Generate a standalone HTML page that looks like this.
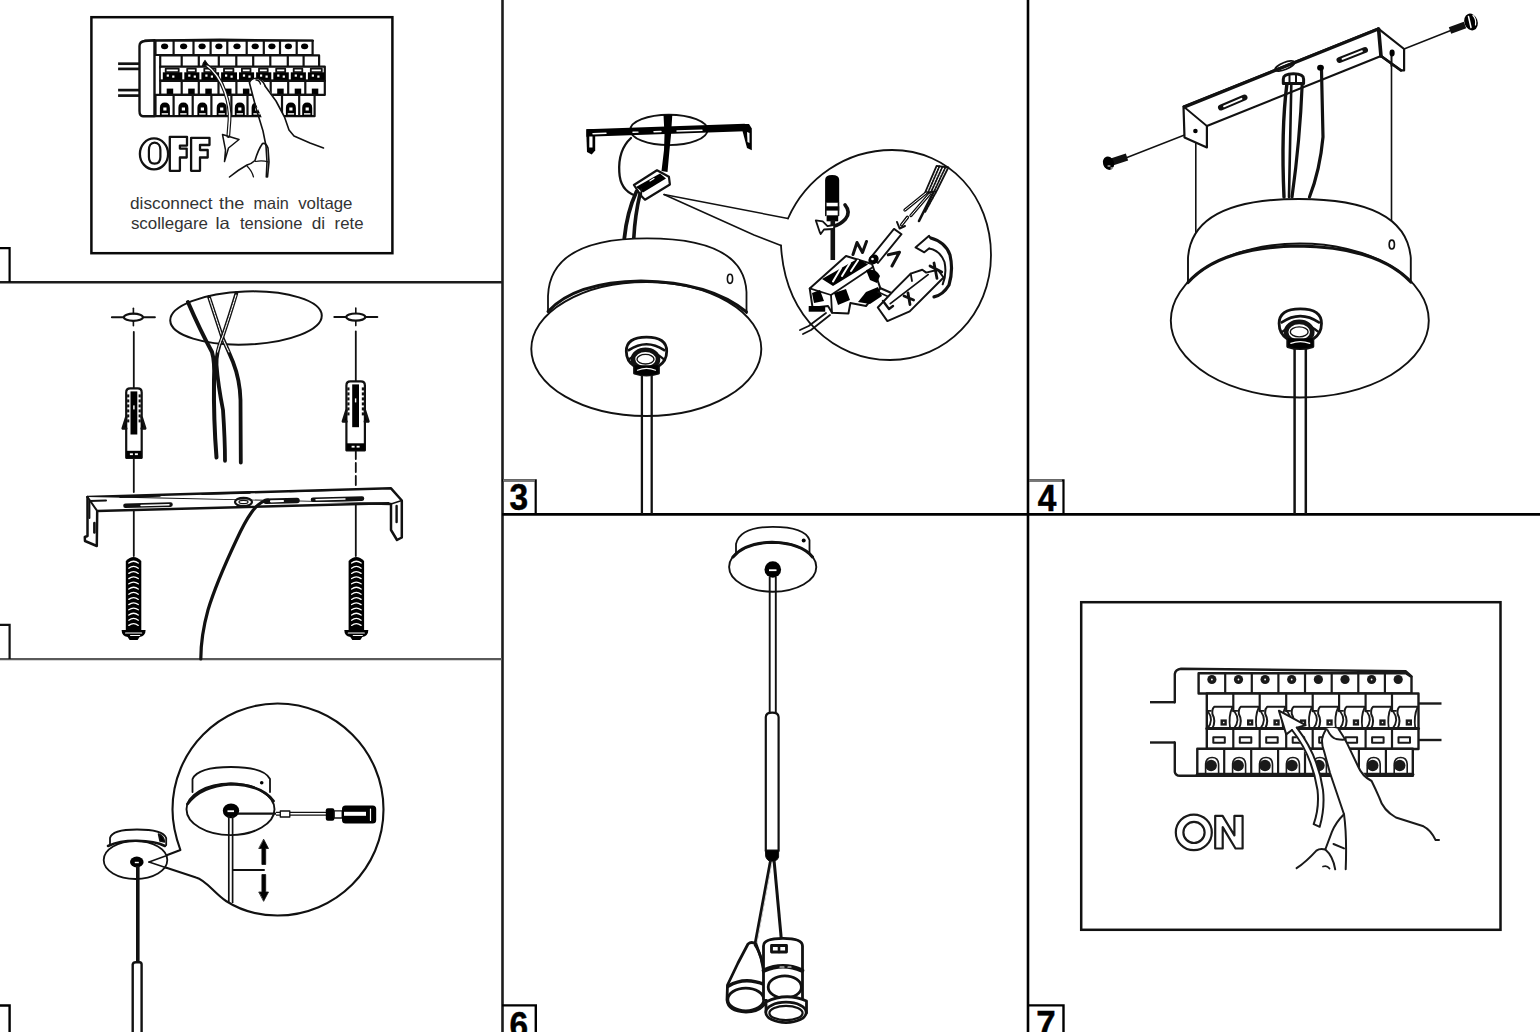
<!DOCTYPE html>
<html><head><meta charset="utf-8"><title>Assembly instructions</title>
<style>
html,body{margin:0;padding:0;background:#fff;}
body{width:1540px;height:1032px;overflow:hidden;}
svg{display:block;}
.t{font-family:"Liberation Sans",sans-serif;}
</style></head>
<body>
<svg width="1540" height="1032" viewBox="0 0 1540 1032">
<rect width="1540" height="1032" fill="#fff"/>
<g fill="none" stroke="#111" stroke-linecap="butt" stroke-linejoin="miter">
<line x1="502.5" y1="0" x2="502.5" y2="1032" stroke-width="2.6" stroke="#1c1c1c"/>
<line x1="1028" y1="0" x2="1028" y2="1032" stroke-width="2.6" stroke="#000"/>
<line x1="0" y1="282.2" x2="502" y2="282.2" stroke-width="2.6" stroke="#1c1c1c"/>
<line x1="0" y1="659.2" x2="502" y2="659.2" stroke-width="2.2" stroke="#5a5a5a"/>
<line x1="502" y1="514.4" x2="1540" y2="514.4" stroke-width="2.8" stroke="#000"/>
<path d="M0 248.2 H9.6 V282" stroke-width="2.2" stroke="#000"/>
<path d="M0 624.8 H9.6 V659" stroke-width="2.2" stroke="#111"/>
<path d="M0 1005.5 H9.6 V1032" stroke-width="2.4" stroke="#000"/>
<path d="M502 480.4 H535.7 V514" stroke-width="2.2" stroke="#000"/>
<line x1="503" y1="480.4" x2="535" y2="480.4" stroke-width="2.2" stroke="#777"/>
<path d="M502 1005.4 H535.8 V1032" stroke-width="2.4" stroke="#000"/>
<path d="M1028 480.4 H1063.5 V514" stroke-width="2.2" stroke="#000"/>
<line x1="1029" y1="480.4" x2="1062" y2="480.4" stroke-width="2.2" stroke="#777"/>
<path d="M1028 1005.4 H1063.5 V1032" stroke-width="2.4" stroke="#000"/>
<rect x="91.4" y="17.2" width="301" height="236" stroke-width="2.5" stroke="#0a0a0a"/>
<rect x="1081.2" y="602.2" width="419.3" height="327.6" stroke-width="2.5" stroke="#111"/>
</g>
<g class="t" font-weight="bold" font-size="36" fill="#000" stroke="#000" stroke-width="0.5">
<text x="509.4" y="510.4" textLength="18.6" lengthAdjust="spacingAndGlyphs">3</text>
<text x="1037.8" y="510.8" textLength="18.6" lengthAdjust="spacingAndGlyphs">4</text>
<text x="509.6" y="1038" textLength="18.6" lengthAdjust="spacingAndGlyphs">6</text>
<text x="1036.2" y="1037" textLength="19.4" lengthAdjust="spacingAndGlyphs">7</text>
</g>
<g fill="none" stroke="#111" stroke-linecap="round" stroke-linejoin="round">
<g id="p1">
<line x1="118.1" y1="63.7" x2="139" y2="63.7" stroke-width="2.7" stroke-linecap="butt"/>
<line x1="118.1" y1="68.9" x2="139" y2="68.9" stroke-width="2.7" stroke-linecap="butt"/>
<line x1="118.1" y1="90.1" x2="139" y2="90.1" stroke-width="2.7" stroke-linecap="butt"/>
<line x1="118.1" y1="95.6" x2="139" y2="95.6" stroke-width="2.7" stroke-linecap="butt"/>
<path d="M139.5 46 Q139.5 41.5 145 41 L154.5 40.2 L154.5 116.2 L143 116.2 Q139.5 116 139.5 111 Z" stroke-width="2.4" fill="#fff"/>
<path d="M145 40.6 L220 39.6 L313 40.8" stroke-width="2.0"/>
<rect x="155.5" y="40.6" width="157.1" height="14.4" stroke-width="2.2" fill="#fff"/>
<line x1="173.6" y1="41" x2="173.6" y2="54.8" stroke-width="2.2"/>
<line x1="193.5" y1="41" x2="193.5" y2="54.8" stroke-width="2.2"/>
<line x1="210.6" y1="41" x2="210.6" y2="54.8" stroke-width="2.2"/>
<line x1="227.3" y1="41" x2="227.3" y2="54.8" stroke-width="2.2"/>
<line x1="246.7" y1="41" x2="246.7" y2="54.8" stroke-width="2.2"/>
<line x1="263.8" y1="41" x2="263.8" y2="54.8" stroke-width="2.2"/>
<line x1="280" y1="41" x2="280" y2="54.8" stroke-width="2.2"/>
<line x1="296.7" y1="41" x2="296.7" y2="54.8" stroke-width="2.2"/>
<ellipse cx="164.6" cy="46.3" rx="3.6" ry="2.9" stroke-width="0" fill="#000" stroke="none"/>
<ellipse cx="183.6" cy="46.3" rx="3.6" ry="2.9" stroke-width="0" fill="#000" stroke="none"/>
<ellipse cx="202.1" cy="46.3" rx="3.6" ry="2.9" stroke-width="0" fill="#000" stroke="none"/>
<ellipse cx="218.9" cy="46.3" rx="3.6" ry="2.9" stroke-width="0" fill="#000" stroke="none"/>
<ellipse cx="237" cy="46.3" rx="3.6" ry="2.9" stroke-width="0" fill="#000" stroke="none"/>
<ellipse cx="255.2" cy="46.3" rx="3.6" ry="2.9" stroke-width="0" fill="#000" stroke="none"/>
<ellipse cx="271.9" cy="46.3" rx="3.6" ry="2.9" stroke-width="0" fill="#000" stroke="none"/>
<ellipse cx="288.4" cy="46.3" rx="3.6" ry="2.9" stroke-width="0" fill="#000" stroke="none"/>
<ellipse cx="304.6" cy="46.3" rx="3.6" ry="2.9" stroke-width="0" fill="#000" stroke="none"/>
<rect x="160.2" y="55.4" width="158.9" height="12.4" stroke-width="2.2" fill="#fff"/>
<line x1="181.7" y1="55.6" x2="181.7" y2="67.5" stroke-width="2.2"/>
<line x1="198.8" y1="55.6" x2="198.8" y2="67.5" stroke-width="2.2"/>
<line x1="218.8" y1="55.6" x2="218.8" y2="67.5" stroke-width="2.2"/>
<line x1="236.3" y1="55.6" x2="236.3" y2="67.5" stroke-width="2.2"/>
<line x1="253.2" y1="55.6" x2="253.2" y2="67.5" stroke-width="2.2"/>
<line x1="270.3" y1="55.6" x2="270.3" y2="67.5" stroke-width="2.2"/>
<line x1="287.8" y1="55.6" x2="287.8" y2="67.5" stroke-width="2.2"/>
<line x1="303.6" y1="55.6" x2="303.6" y2="67.5" stroke-width="2.2"/>
<rect x="160.2" y="66.6" width="164.6" height="14.2" stroke-width="2.2" fill="#fff"/>
<rect x="160.2" y="72.3" width="164.6" height="8.3" stroke-width="0" fill="#000" stroke="none"/>
<rect x="165.7" y="68.6" width="13" height="3.6" stroke-width="1.8" fill="#fff"/>
<line x1="161.8" y1="68" x2="161.8" y2="79.5" stroke-width="2.0" stroke="#fff" stroke-linecap="butt"/>
<rect x="166.7" y="74.5" width="2.2" height="2.2" stroke-width="0" fill="#fff" stroke="none"/>
<rect x="172.2" y="75.5" width="2.2" height="2.2" stroke-width="0" fill="#fff" stroke="none"/>
<rect x="187.2" y="68.6" width="8.6" height="3.6" stroke-width="1.8" fill="#fff"/>
<line x1="183.3" y1="68" x2="183.3" y2="79.5" stroke-width="2.0" stroke="#fff" stroke-linecap="butt"/>
<rect x="188.2" y="74.5" width="2.2" height="2.2" stroke-width="0" fill="#fff" stroke="none"/>
<rect x="193.7" y="75.5" width="2.2" height="2.2" stroke-width="0" fill="#fff" stroke="none"/>
<rect x="204.3" y="68.6" width="11.2" height="3.6" stroke-width="1.8" fill="#fff"/>
<line x1="200.4" y1="68" x2="200.4" y2="79.5" stroke-width="2.0" stroke="#fff" stroke-linecap="butt"/>
<rect x="205.3" y="74.5" width="2.2" height="2.2" stroke-width="0" fill="#fff" stroke="none"/>
<rect x="210.8" y="75.5" width="2.2" height="2.2" stroke-width="0" fill="#fff" stroke="none"/>
<rect x="224" y="68.6" width="9.4" height="3.6" stroke-width="1.8" fill="#fff"/>
<line x1="220.1" y1="68" x2="220.1" y2="79.5" stroke-width="2.0" stroke="#fff" stroke-linecap="butt"/>
<rect x="225" y="74.5" width="2.2" height="2.2" stroke-width="0" fill="#fff" stroke="none"/>
<rect x="230.5" y="75.5" width="2.2" height="2.2" stroke-width="0" fill="#fff" stroke="none"/>
<rect x="241.9" y="68.6" width="8.6" height="3.6" stroke-width="1.8" fill="#fff"/>
<line x1="238" y1="68" x2="238" y2="79.5" stroke-width="2.0" stroke="#fff" stroke-linecap="butt"/>
<rect x="242.9" y="74.5" width="2.2" height="2.2" stroke-width="0" fill="#fff" stroke="none"/>
<rect x="248.4" y="75.5" width="2.2" height="2.2" stroke-width="0" fill="#fff" stroke="none"/>
<rect x="259" y="68.6" width="8.7" height="3.6" stroke-width="1.8" fill="#fff"/>
<line x1="255.1" y1="68" x2="255.1" y2="79.5" stroke-width="2.0" stroke="#fff" stroke-linecap="butt"/>
<rect x="260" y="74.5" width="2.2" height="2.2" stroke-width="0" fill="#fff" stroke="none"/>
<rect x="265.5" y="75.5" width="2.2" height="2.2" stroke-width="0" fill="#fff" stroke="none"/>
<rect x="276.2" y="68.6" width="9" height="3.6" stroke-width="1.8" fill="#fff"/>
<line x1="272.3" y1="68" x2="272.3" y2="79.5" stroke-width="2.0" stroke="#fff" stroke-linecap="butt"/>
<rect x="277.2" y="74.5" width="2.2" height="2.2" stroke-width="0" fill="#fff" stroke="none"/>
<rect x="282.7" y="75.5" width="2.2" height="2.2" stroke-width="0" fill="#fff" stroke="none"/>
<rect x="293.7" y="68.6" width="8.6" height="3.6" stroke-width="1.8" fill="#fff"/>
<line x1="289.8" y1="68" x2="289.8" y2="79.5" stroke-width="2.0" stroke="#fff" stroke-linecap="butt"/>
<rect x="294.7" y="74.5" width="2.2" height="2.2" stroke-width="0" fill="#fff" stroke="none"/>
<rect x="300.2" y="75.5" width="2.2" height="2.2" stroke-width="0" fill="#fff" stroke="none"/>
<rect x="310.8" y="68.6" width="11" height="3.6" stroke-width="1.8" fill="#fff"/>
<line x1="306.9" y1="68" x2="306.9" y2="79.5" stroke-width="2.0" stroke="#fff" stroke-linecap="butt"/>
<rect x="311.8" y="74.5" width="2.2" height="2.2" stroke-width="0" fill="#fff" stroke="none"/>
<rect x="317.3" y="75.5" width="2.2" height="2.2" stroke-width="0" fill="#fff" stroke="none"/>
<rect x="160.2" y="80.8" width="164.6" height="14.1" stroke-width="2.2" fill="#fff"/>
<line x1="181.7" y1="81" x2="181.7" y2="94.5" stroke-width="2.2"/>
<line x1="198.8" y1="81" x2="198.8" y2="94.5" stroke-width="2.2"/>
<line x1="218.5" y1="81" x2="218.5" y2="94.5" stroke-width="2.2"/>
<line x1="236.4" y1="81" x2="236.4" y2="94.5" stroke-width="2.2"/>
<line x1="253.5" y1="81" x2="253.5" y2="94.5" stroke-width="2.2"/>
<line x1="270.7" y1="81" x2="270.7" y2="94.5" stroke-width="2.2"/>
<line x1="288.2" y1="81" x2="288.2" y2="94.5" stroke-width="2.2"/>
<line x1="305.3" y1="81" x2="305.3" y2="94.5" stroke-width="2.2"/>
<rect x="166.7" y="88.6" width="6.5" height="6" stroke-width="0" fill="#000" stroke="none"/>
<rect x="188.2" y="88.6" width="6.5" height="6" stroke-width="0" fill="#000" stroke="none"/>
<rect x="205.3" y="88.6" width="6.5" height="6" stroke-width="0" fill="#000" stroke="none"/>
<rect x="225" y="88.6" width="6.5" height="6" stroke-width="0" fill="#000" stroke="none"/>
<rect x="242.9" y="88.6" width="6.5" height="6" stroke-width="0" fill="#000" stroke="none"/>
<rect x="260" y="88.6" width="6.5" height="6" stroke-width="0" fill="#000" stroke="none"/>
<rect x="277.2" y="88.6" width="6.5" height="6" stroke-width="0" fill="#000" stroke="none"/>
<rect x="294.7" y="88.6" width="6.5" height="6" stroke-width="0" fill="#000" stroke="none"/>
<rect x="311.8" y="88.6" width="6.5" height="6" stroke-width="0" fill="#000" stroke="none"/>
<rect x="155.5" y="94.9" width="159.1" height="21.3" stroke-width="2.2" fill="#fff"/>
<line x1="173.6" y1="95.2" x2="173.6" y2="116" stroke-width="2.2"/>
<line x1="192.7" y1="95.2" x2="192.7" y2="116" stroke-width="2.2"/>
<line x1="211.4" y1="95.2" x2="211.4" y2="116" stroke-width="2.2"/>
<line x1="231.4" y1="95.2" x2="231.4" y2="116" stroke-width="2.2"/>
<line x1="247.5" y1="95.2" x2="247.5" y2="116" stroke-width="2.2"/>
<line x1="265" y1="95.2" x2="265" y2="116" stroke-width="2.2"/>
<line x1="282" y1="95.2" x2="282" y2="116" stroke-width="2.2"/>
<line x1="299.2" y1="95.2" x2="299.2" y2="116" stroke-width="2.2"/>
<path d="M159.9 116 L159.9 108 Q159.9 102.5 164.9 102.5 Q169.9 102.5 169.9 108 L169.9 116 Z" stroke-width="0" fill="#000" stroke="none"/>
<rect x="163.3" y="107.5" width="3.2" height="3" stroke-width="0" fill="#fff" stroke="none"/>
<rect x="161.7" y="113.2" width="6.4" height="1.4" stroke-width="0" fill="#fff" stroke="none"/>
<path d="M178.4 116 L178.4 108 Q178.4 102.5 183.4 102.5 Q188.4 102.5 188.4 108 L188.4 116 Z" stroke-width="0" fill="#000" stroke="none"/>
<rect x="181.8" y="107.5" width="3.2" height="3" stroke-width="0" fill="#fff" stroke="none"/>
<rect x="180.2" y="113.2" width="6.4" height="1.4" stroke-width="0" fill="#fff" stroke="none"/>
<path d="M197.4 116 L197.4 108 Q197.4 102.5 202.4 102.5 Q207.4 102.5 207.4 108 L207.4 116 Z" stroke-width="0" fill="#000" stroke="none"/>
<rect x="200.8" y="107.5" width="3.2" height="3" stroke-width="0" fill="#fff" stroke="none"/>
<rect x="199.2" y="113.2" width="6.4" height="1.4" stroke-width="0" fill="#fff" stroke="none"/>
<path d="M216.7 116 L216.7 108 Q216.7 102.5 221.7 102.5 Q226.7 102.5 226.7 108 L226.7 116 Z" stroke-width="0" fill="#000" stroke="none"/>
<rect x="220.1" y="107.5" width="3.2" height="3" stroke-width="0" fill="#fff" stroke="none"/>
<rect x="218.5" y="113.2" width="6.4" height="1.4" stroke-width="0" fill="#fff" stroke="none"/>
<path d="M234.8 116 L234.8 108 Q234.8 102.5 239.8 102.5 Q244.8 102.5 244.8 108 L244.8 116 Z" stroke-width="0" fill="#000" stroke="none"/>
<rect x="238.2" y="107.5" width="3.2" height="3" stroke-width="0" fill="#fff" stroke="none"/>
<rect x="236.6" y="113.2" width="6.4" height="1.4" stroke-width="0" fill="#fff" stroke="none"/>
<path d="M251.6 116 L251.6 108 Q251.6 102.5 256.6 102.5 Q261.6 102.5 261.6 108 L261.6 116 Z" stroke-width="0" fill="#000" stroke="none"/>
<rect x="255" y="107.5" width="3.2" height="3" stroke-width="0" fill="#fff" stroke="none"/>
<rect x="253.4" y="113.2" width="6.4" height="1.4" stroke-width="0" fill="#fff" stroke="none"/>
<path d="M268.8 116 L268.8 108 Q268.8 102.5 273.8 102.5 Q278.8 102.5 278.8 108 L278.8 116 Z" stroke-width="0" fill="#000" stroke="none"/>
<rect x="272.2" y="107.5" width="3.2" height="3" stroke-width="0" fill="#fff" stroke="none"/>
<rect x="270.6" y="113.2" width="6.4" height="1.4" stroke-width="0" fill="#fff" stroke="none"/>
<path d="M285.9 116 L285.9 108 Q285.9 102.5 290.9 102.5 Q295.9 102.5 295.9 108 L295.9 116 Z" stroke-width="0" fill="#000" stroke="none"/>
<rect x="289.3" y="107.5" width="3.2" height="3" stroke-width="0" fill="#fff" stroke="none"/>
<rect x="287.7" y="113.2" width="6.4" height="1.4" stroke-width="0" fill="#fff" stroke="none"/>
<path d="M302.2 116 L302.2 108 Q302.2 102.5 307.2 102.5 Q312.2 102.5 312.2 108 L312.2 116 Z" stroke-width="0" fill="#000" stroke="none"/>
<rect x="305.6" y="107.5" width="3.2" height="3" stroke-width="0" fill="#fff" stroke="none"/>
<rect x="304" y="113.2" width="6.4" height="1.4" stroke-width="0" fill="#fff" stroke="none"/>
<path d="M249.5 82 Q252 78.5 257 78.5 Q263 79 266.5 85.5 L277 103 L285 118 L262 118 L254 100 Z" stroke-width="0" fill="#fff" stroke="none"/>
<path d="M204.5 63.5 Q219 74 225 92 Q230.5 108 229.5 120 L228.3 136" stroke-width="3.8"/>
<path d="M204.5 63.5 Q219 74 225 92 Q230.5 108 229.5 120 L228.3 136" stroke-width="1.5" stroke="#fff"/>
<path d="M205 60.5 L202.5 65.5 L208 65 Z" stroke-width="1.2" fill="#000"/>
<path d="M222.5 134.5 L239 139.5 L228.5 148 L224.5 161.5 L225.5 150 L222.5 134.5" stroke-width="1.5"/>
<path d="M249.5 82.5 Q251 78.5 256 78.3 Q262 78.8 265 85.5" stroke-width="1.6"/>
<path d="M256 80 Q259.5 80 260.5 84" stroke-width="1.3"/>
<path d="M249.5 83 L256 108 L263 131 L266 146 L267 162 L266.3 177" stroke-width="1.6"/>
<path d="M265 86 L276 101 L284.5 117 L289 130 L294 136 L310 143 L323.5 148" stroke-width="1.6"/>
<path d="M229.5 177 Q238 170 247 165 Q252 163.5 255 160.5 Q258 150 262.5 143.5 Q266 142.5 268 148 L269 162 L267.5 177" stroke-width="1.6"/>
<path d="M255.5 161.5 Q262 160 268.5 162" stroke-width="1.2"/>
<path d="M247 166 Q252 171 253.5 177" stroke-width="1.2"/>
<ellipse cx="154" cy="153.9" rx="14.1" ry="15.5" stroke-width="2.3" fill="#fff"/>
<path d="M154.6 142.6 C158.5 142.6 160.4 146 160.4 150 L160.4 157 C160.4 161 158.5 163.6 154.6 163.6 C150.7 163.6 148.9 161 148.9 157 L148.9 150 C148.9 146 150.7 142.6 154.6 142.6 Z" stroke-width="2.2" fill="#fff"/>
<path d="M169.8 136.8 H187 V145.6 H179.9 V148.6 H186.7 V157.5 H179.9 V170.8 H169.8 Z" stroke-width="2.3" fill="#fff"/>
<path d="M191.1 137.8 H209.5 V145 H200 V150 H207.7 V157.5 H200 V170.8 H191.1 Z" stroke-width="2.3" fill="#fff"/>
</g>
<g id="p2">
<ellipse cx="246" cy="318" rx="75.8" ry="26.5" stroke-width="2.0" transform="rotate(-2 246 318)"/>
<path d="M187.9 302 Q200 330 212 352 Q215 362 214 380 Q213.5 420 216.5 457.5" stroke-width="4.0"/>
<path d="M209 297 Q216 318 222.3 337.4 Q228 350 233 362 Q240 380 240.5 400 L240.8 462.5" stroke-width="3.8"/>
<path d="M209.5 298.5 Q216 318 222.3 337.4 Q226 346 229 352" stroke-width="1.1" stroke="#fff" stroke-dasharray="2.5 1"/>
<path d="M236.4 293.3 Q229 318 222.3 337.4 Q216 352 216.5 365 Q218 385 223 410 Q225 440 225 460.8" stroke-width="3.8"/>
<path d="M236 295 Q229 318 222.3 337.4 Q219 345 217.5 352" stroke-width="1.1" stroke="#fff" stroke-dasharray="2.5 1"/>
<line x1="111.9" y1="317.3" x2="154.9" y2="317.3" stroke-width="2.0"/>
<ellipse cx="133.4" cy="317.3" rx="9.5" ry="3.6" stroke-width="2.2" fill="#fff"/>
<line x1="133.4" y1="308.3" x2="133.4" y2="313.7" stroke-width="1.6"/>
<line x1="133.4" y1="320.9" x2="133.4" y2="325.8" stroke-width="1.6"/>
<line x1="334.3" y1="317.1" x2="377.3" y2="317.1" stroke-width="2.0"/>
<ellipse cx="355.8" cy="317.1" rx="9.5" ry="3.6" stroke-width="2.2" fill="#fff"/>
<line x1="355.8" y1="308.1" x2="355.8" y2="313.5" stroke-width="1.6"/>
<line x1="355.8" y1="320.7" x2="355.8" y2="325.6" stroke-width="1.6"/>
<line x1="133.8" y1="332" x2="133.8" y2="389" stroke-width="1.8"/>
<line x1="355.8" y1="331.4" x2="355.8" y2="382" stroke-width="1.8"/>
<line x1="133.8" y1="457" x2="133.8" y2="492" stroke-width="1.8"/>
<line x1="355.8" y1="450" x2="355.8" y2="488" stroke-width="1.8" stroke-dasharray="9 4"/>
<line x1="133.8" y1="506" x2="133.8" y2="556" stroke-width="1.8"/>
<line x1="355.8" y1="502" x2="355.8" y2="556" stroke-width="1.8"/>
<path d="M126.2 457.8 L126.2 392.4 Q126.2 388.4 130.2 388.4 L137.7 388.4 Q141.7 388.4 141.7 392.4 L141.7 457.8 Z" stroke-width="2.2" fill="#fff"/>
<path d="M126.2 417.5 L122.7 428.5 L126.2 428.5" stroke-width="2.6" fill="#000"/>
<path d="M141.7 417.5 L145.2 428.5 L141.7 428.5" stroke-width="2.6" fill="#000"/>
<line x1="128.2" y1="394.4" x2="128.2" y2="397.4" stroke-width="2.2" stroke-linecap="butt"/>
<line x1="139.7" y1="394.4" x2="139.7" y2="397.4" stroke-width="2.2" stroke-linecap="butt"/>
<line x1="128.2" y1="399.4" x2="128.2" y2="402.4" stroke-width="2.2" stroke-linecap="butt"/>
<line x1="139.7" y1="399.4" x2="139.7" y2="402.4" stroke-width="2.2" stroke-linecap="butt"/>
<line x1="128.2" y1="404.4" x2="128.2" y2="407.4" stroke-width="2.2" stroke-linecap="butt"/>
<line x1="139.7" y1="404.4" x2="139.7" y2="407.4" stroke-width="2.2" stroke-linecap="butt"/>
<line x1="128.2" y1="409.4" x2="128.2" y2="412.4" stroke-width="2.2" stroke-linecap="butt"/>
<line x1="139.7" y1="409.4" x2="139.7" y2="412.4" stroke-width="2.2" stroke-linecap="butt"/>
<line x1="128.2" y1="414.4" x2="128.2" y2="417.4" stroke-width="2.2" stroke-linecap="butt"/>
<line x1="139.7" y1="414.4" x2="139.7" y2="417.4" stroke-width="2.2" stroke-linecap="butt"/>
<line x1="128.2" y1="419.4" x2="128.2" y2="422.4" stroke-width="2.2" stroke-linecap="butt"/>
<line x1="139.7" y1="419.4" x2="139.7" y2="422.4" stroke-width="2.2" stroke-linecap="butt"/>
<rect x="130.5" y="391.4" width="6.8" height="43.1" stroke-width="0" fill="#000" stroke="none"/>
<rect x="133.2" y="405.4" width="1.4" height="4" stroke-width="0" fill="#fff" stroke="none"/>
<rect x="126.2" y="450.8" width="15.5" height="7" stroke-width="0" fill="#000" stroke="none"/>
<rect x="129.9" y="453.3" width="3" height="1.8" stroke-width="0" fill="#fff" stroke="none"/>
<rect x="134.9" y="453.3" width="3" height="1.8" stroke-width="0" fill="#fff" stroke="none"/>
<path d="M346.4 450.3 L346.4 385.4 Q346.4 381.4 350.4 381.4 L360.9 381.4 Q364.9 381.4 364.9 385.4 L364.9 450.3 Z" stroke-width="2.2" fill="#fff"/>
<path d="M346.4 410.5 L342.9 421.5 L346.4 421.5" stroke-width="2.6" fill="#000"/>
<path d="M364.9 410.5 L368.4 421.5 L364.9 421.5" stroke-width="2.6" fill="#000"/>
<line x1="348.4" y1="387.4" x2="348.4" y2="390.4" stroke-width="2.2" stroke-linecap="butt"/>
<line x1="362.9" y1="387.4" x2="362.9" y2="390.4" stroke-width="2.2" stroke-linecap="butt"/>
<line x1="348.4" y1="392.4" x2="348.4" y2="395.4" stroke-width="2.2" stroke-linecap="butt"/>
<line x1="362.9" y1="392.4" x2="362.9" y2="395.4" stroke-width="2.2" stroke-linecap="butt"/>
<line x1="348.4" y1="397.4" x2="348.4" y2="400.4" stroke-width="2.2" stroke-linecap="butt"/>
<line x1="362.9" y1="397.4" x2="362.9" y2="400.4" stroke-width="2.2" stroke-linecap="butt"/>
<line x1="348.4" y1="402.4" x2="348.4" y2="405.4" stroke-width="2.2" stroke-linecap="butt"/>
<line x1="362.9" y1="402.4" x2="362.9" y2="405.4" stroke-width="2.2" stroke-linecap="butt"/>
<line x1="348.4" y1="407.4" x2="348.4" y2="410.4" stroke-width="2.2" stroke-linecap="butt"/>
<line x1="362.9" y1="407.4" x2="362.9" y2="410.4" stroke-width="2.2" stroke-linecap="butt"/>
<line x1="348.4" y1="412.4" x2="348.4" y2="415.4" stroke-width="2.2" stroke-linecap="butt"/>
<line x1="362.9" y1="412.4" x2="362.9" y2="415.4" stroke-width="2.2" stroke-linecap="butt"/>
<rect x="352.2" y="384.4" width="6.8" height="42.8" stroke-width="0" fill="#000" stroke="none"/>
<rect x="354.9" y="398.4" width="1.4" height="4" stroke-width="0" fill="#fff" stroke="none"/>
<rect x="346.4" y="443.3" width="18.5" height="7" stroke-width="0" fill="#000" stroke="none"/>
<rect x="351.6" y="445.8" width="3" height="1.8" stroke-width="0" fill="#fff" stroke="none"/>
<rect x="356.6" y="445.8" width="3" height="1.8" stroke-width="0" fill="#fff" stroke="none"/>
<path d="M87.5 497 L390.8 488.2 L401.8 500.5 L401.8 537.5 L397 540 L391 530 L391 504 Z" stroke-width="2.5" fill="#fff"/>
<path d="M87.5 497 L87.5 536 L84.8 537 L85 541 L96.8 546 L97.2 511 L388.5 503.2" stroke-width="2.5" fill="#fff"/>
<path d="M87.5 497 L97.2 511" stroke-width="2.0"/>
<path d="M391 504 L401.8 500.5" stroke-width="1.4"/>
<path d="M89.4 518 L89.4 500.9 L106 500.4" stroke-width="2.0"/>
<line x1="94.4" y1="523" x2="94.4" y2="532.5" stroke-width="2.6"/>
<line x1="396.6" y1="506" x2="396.6" y2="522" stroke-width="2.4"/>
<path d="M120 497.3 L160 496 M202 494.2 L250 493 M290 491.5 L340 490" stroke-width="1.4"/>
<path d="M125.5 505.8 L170.5 504.6" stroke-width="4.6"/>
<path d="M141 505.5 L169 504.7" stroke-width="1.4" stroke="#fff"/>
<path d="M313 499.8 L362 498.6" stroke-width="4.6"/>
<path d="M316 499.7 L345 499" stroke-width="1.4" stroke="#fff"/>
<ellipse cx="243.5" cy="502" rx="8.5" ry="4.2" stroke-width="2.2"/>
<ellipse cx="243.5" cy="502" rx="4.5" ry="1.6" stroke-width="1.2"/>
<path d="M266 501.2 L297 500.5" stroke-width="5.5"/>
<path d="M271 501.3 L283 501" stroke-width="2.2" stroke="#fff"/>
<path d="M268 500 C256 501.5 246 519 236.4 540 C227 560 214 590 208 610 C203 628 200.8 645 200.8 659" stroke-width="3.2"/>
<path d="M125.8 630 L125.8 561 Q133.6 553 141.3 561 L141.3 630 Z" stroke-width="0" fill="#000" stroke="none"/>
<path d="M128.8 563 Q133.6 559.5 138.3 563" stroke-width="1.3" stroke="#fff"/>
<path d="M128.8 568.2 Q133.6 564.7 138.3 568.2" stroke-width="1.3" stroke="#fff"/>
<path d="M128.8 573.4 Q133.6 569.9 138.3 573.4" stroke-width="1.3" stroke="#fff"/>
<path d="M128.8 578.6 Q133.6 575.1 138.3 578.6" stroke-width="1.3" stroke="#fff"/>
<path d="M128.8 583.8 Q133.6 580.3 138.3 583.8" stroke-width="1.3" stroke="#fff"/>
<path d="M128.8 589 Q133.6 585.5 138.3 589" stroke-width="1.3" stroke="#fff"/>
<path d="M128.8 594.2 Q133.6 590.7 138.3 594.2" stroke-width="1.3" stroke="#fff"/>
<path d="M128.8 599.4 Q133.6 595.9 138.3 599.4" stroke-width="1.3" stroke="#fff"/>
<path d="M128.8 604.6 Q133.6 601.1 138.3 604.6" stroke-width="1.3" stroke="#fff"/>
<path d="M128.8 609.8 Q133.6 606.3 138.3 609.8" stroke-width="1.3" stroke="#fff"/>
<path d="M128.8 615 Q133.6 611.5 138.3 615" stroke-width="1.3" stroke="#fff"/>
<path d="M128.8 620.2 Q133.6 616.7 138.3 620.2" stroke-width="1.3" stroke="#fff"/>
<path d="M128.8 625.4 Q133.6 621.9 138.3 625.4" stroke-width="1.3" stroke="#fff"/>
<path d="M121.6 630 L145.6 630 Q145.6 636 139.6 637 L137.6 640 L129.6 640 L127.6 637 Q121.6 636 121.6 630 Z" stroke-width="0" fill="#000" stroke="none"/>
<path d="M125.6 633 L141.6 633" stroke-width="1.2" stroke="#fff"/>
<path d="M130.6 635.5 L139.6 635.5" stroke-width="1.2" stroke="#fff"/>
<path d="M348.6 630 L348.6 561 Q356.3 553 364.1 561 L364.1 630 Z" stroke-width="0" fill="#000" stroke="none"/>
<path d="M351.6 563 Q356.3 559.5 361.1 563" stroke-width="1.3" stroke="#fff"/>
<path d="M351.6 568.2 Q356.3 564.7 361.1 568.2" stroke-width="1.3" stroke="#fff"/>
<path d="M351.6 573.4 Q356.3 569.9 361.1 573.4" stroke-width="1.3" stroke="#fff"/>
<path d="M351.6 578.6 Q356.3 575.1 361.1 578.6" stroke-width="1.3" stroke="#fff"/>
<path d="M351.6 583.8 Q356.3 580.3 361.1 583.8" stroke-width="1.3" stroke="#fff"/>
<path d="M351.6 589 Q356.3 585.5 361.1 589" stroke-width="1.3" stroke="#fff"/>
<path d="M351.6 594.2 Q356.3 590.7 361.1 594.2" stroke-width="1.3" stroke="#fff"/>
<path d="M351.6 599.4 Q356.3 595.9 361.1 599.4" stroke-width="1.3" stroke="#fff"/>
<path d="M351.6 604.6 Q356.3 601.1 361.1 604.6" stroke-width="1.3" stroke="#fff"/>
<path d="M351.6 609.8 Q356.3 606.3 361.1 609.8" stroke-width="1.3" stroke="#fff"/>
<path d="M351.6 615 Q356.3 611.5 361.1 615" stroke-width="1.3" stroke="#fff"/>
<path d="M351.6 620.2 Q356.3 616.7 361.1 620.2" stroke-width="1.3" stroke="#fff"/>
<path d="M351.6 625.4 Q356.3 621.9 361.1 625.4" stroke-width="1.3" stroke="#fff"/>
<path d="M344.3 630 L368.3 630 Q368.3 636 362.3 637 L360.3 640 L352.3 640 L350.3 637 Q344.3 636 344.3 630 Z" stroke-width="0" fill="#000" stroke="none"/>
<path d="M348.3 633 L364.3 633" stroke-width="1.2" stroke="#fff"/>
<path d="M353.3 635.5 L362.3 635.5" stroke-width="1.2" stroke="#fff"/>
</g>
<g id="p3">
<ellipse cx="668.9" cy="129.9" rx="38.6" ry="15.2" stroke-width="1.9"/>
<path d="M586.4 129.3 L744.8 123.8 L744.8 131.2 L586.4 136.7 Z" stroke-width="0" fill="#000" stroke="none"/>
<path d="M586.4 129.3 L595.2 129 L595.2 150.5 L591.7 154.4 L587 152 L586.4 136 Z" stroke-width="0" fill="#000" stroke="none"/>
<rect x="589.3" y="136.5" width="3.2" height="11" stroke-width="0" fill="#fff" stroke="none"/>
<path d="M742.5 124 L749 124 L751.8 128.5 L751.8 150.3 L747 148 L742.5 131 Z" stroke-width="0" fill="#000" stroke="none"/>
<path d="M747 132 L749.5 133 L749.5 143 L747.5 142 Z" stroke-width="0" fill="#fff" stroke="none"/>
<path d="M593 133.8 L606 133.3 M633 132.3 L638 132.1 M654 131.7 L661 131.5 M677 131 L702 130.3" stroke-width="1.4" stroke="#fff"/>
<path d="M663.5 114.7 L672.3 114.7 L671 135 L669.5 150 L667.5 172 L661.5 171 L664 150 L664.5 135 Z" stroke-width="0" fill="#000" stroke="none"/>
<path d="M631 138 Q618 150 619.3 172 Q620 190 635 195.5" stroke-width="2.3"/>
<path d="M633.9 185 L657 170.3 L668.9 176.7 L669.9 184.5 L645 199.7 L641.3 196 Z" stroke-width="2.2" fill="#fff"/>
<path d="M636 187 L660 173.5 L666 178.5 L643 192.5 Z" stroke-width="0" fill="#000" stroke="none"/>
<path d="M650 181 L654 178.6" stroke-width="1.2" stroke="#fff"/>
<path d="M641.3 196 L641.3 189" stroke-width="1.6"/>
<path d="M636.5 191.5 Q627 212 624.3 238.5" stroke-width="3.8"/>
<path d="M640 194 Q635 215 633.8 238" stroke-width="3.6"/>
<path d="M664 194.5 L788 218.5" stroke-width="1.5"/>
<path d="M664 194.5 L754 235 L781 245.5" stroke-width="1.5"/>
<path d="M788 218.5 C806 178 846 150 892 150 C950 150 991 197 991 255 C991 314 946 360 890 360 C835 360 785 318 781 245.5" stroke-width="1.8"/>
<path d="M548 312 L548 296 Q550 238.3 647 238.3 Q744 238.3 746.5 292 L746.5 313" stroke-width="1.8" fill="#fff"/>
<ellipse cx="646.3" cy="349" rx="115" ry="67" stroke-width="1.9" fill="#fff"/>
<path d="M548 311.5 Q575 282 641 281 Q710 282 746.5 312" stroke-width="3.0"/>
<ellipse cx="730" cy="278.8" rx="2.6" ry="4.6" stroke-width="1.6"/>
<path d="M641.9 372 L641.9 514" stroke-width="2.3" stroke-linecap="butt"/>
<path d="M651.7 372 L651.7 514" stroke-width="2.3" stroke-linecap="butt"/>
<path d="M626.3 351.2 Q626.3 337.2 646.5 337.2 Q666.7 337.2 666.7 351.2 Q666.7 361.2 658.5 366.2 L658.5 373.2 Q646.5 377.2 634.5 373.2 L634.5 366.2 Q626.3 361.2 626.3 351.2 Z" stroke-width="2.8" fill="#fff"/>
<path d="M628.8 350.2 Q646.5 338.2 664.2 350.2" stroke-width="2.6"/>
<path d="M629.3 359.2 Q646.5 344.2 663.7 359.2" stroke-width="2.2"/>
<ellipse cx="645.5" cy="359.2" rx="12.5" ry="9.5" stroke-width="4.6" fill="#fff"/>
<ellipse cx="645.5" cy="359.2" rx="8.5" ry="4.8" stroke-width="1.4" fill="#fff"/>
<path d="M634.5 365.2 L658.5 365.2 L658.5 373.2 Q646.5 377.2 634.5 373.2 Z" stroke-width="0" fill="#000" stroke="none"/>
<path d="M637.5 370.2 Q646.5 366.7 655.5 370.2" stroke-width="1.2" stroke="#fff"/>
<path d="M825.1 202.8 L825.1 180 Q825.1 175.1 832.1 175.1 Q839.2 175.1 839.2 180 L839.2 202.8 Z" stroke-width="0" fill="#000" stroke="none"/>
<rect x="825.1" y="206.3" width="14.1" height="4.3" stroke-width="0" fill="#000" stroke="none"/>
<rect x="826.6" y="215.3" width="11.6" height="6" stroke-width="0" fill="#000" stroke="none"/>
<line x1="825.8" y1="202.8" x2="825.8" y2="215.5" stroke-width="1.6"/>
<line x1="838.5" y1="202.8" x2="838.5" y2="215.5" stroke-width="1.6"/>
<line x1="832.8" y1="220" x2="832.8" y2="260" stroke-width="4.6" stroke-linecap="butt"/>
<path d="M845 204.8 Q851 212 845.5 219 Q840 225 833.4 226.2" stroke-width="3.6"/>
<path d="M833.4 225 L827.5 226.2 L822.7 221.3 L815.8 220.4 L819.7 232 L820.7 234 L824 229.5 L833 229" stroke-width="1.8" fill="#fff"/>
<path d="M936.6 165.8 L948.3 167.5 L936.6 191.2 L924.9 193 Z" stroke-width="1.8" fill="#fff"/>
<path d="M939.5 166.2 L928 192.5 M942.5 166.7 L931 192 M945.5 167.1 L934 191.6" stroke-width="1.8" stroke-dasharray="1.6 1.4"/>
<path d="M926 193 L905 210" stroke-width="3.4"/>
<path d="M926 193 L905 210" stroke-width="1.0" stroke="#fff"/>
<path d="M929.5 194 L911 215.5" stroke-width="3.4"/>
<path d="M929.5 194 L911 215.5" stroke-width="1.0" stroke="#fff"/>
<path d="M933 193 L919 221" stroke-width="2.6"/>
<path d="M936 192 L925 212" stroke-width="2.0" stroke-dasharray="1.6 1.4"/>
<path d="M907.4 217.4 L901.5 225" stroke-width="3.4"/>
<path d="M907.4 217.4 L901.5 225" stroke-width="1.0" stroke="#fff"/>
<path d="M897 222 L899.6 228.5 L905 226" stroke-width="2.0"/>
<path d="M894 228.9 L901.5 234.2 L878 263 L870.6 257.7 Z" stroke-width="1.9" fill="#fff"/>
<ellipse cx="873.5" cy="259.5" rx="5.5" ry="4.5" stroke-width="0" fill="#000" stroke="none" transform="rotate(-40 873.5 259.5)"/>
<circle cx="872.5" cy="259" r="1.3" stroke-width="0" fill="#fff" stroke="none"/>
<path d="M853 254.5 L857 242.5 L862.5 252.5 L866.5 241.5" stroke-width="3.0"/>
<path d="M888.3 254.8 L899.5 252.2 L892 266" stroke-width="3.0"/>
<path d="M809.7 288.4 L846 256 L872 264 L880.4 288.4 L866 306 L850.4 303 L848.4 313.6 L832 312.7 L828 306 L812.6 307.8 Z" stroke-width="2.0" fill="#fff"/>
<path d="M809.7 288.4 L831 295 L873 267" stroke-width="1.8"/>
<path d="M831 295 L832 312.7" stroke-width="1.8"/>
<path d="M822 279 L858 258.5 L868 264.5 L833 286 Z" stroke-width="0" fill="#000" stroke="none"/>
<path d="M833 281.5 L841 268 M842 276 L850 263 M851 271 L858 260.5" stroke-width="2.0" stroke="#fff"/>
<path d="M834 293 L846 289 L850 300 L838 305 Z" stroke-width="0" fill="#000" stroke="none"/>
<path d="M812 293 L820 290 L824 301 L814 303 Z" stroke-width="0" fill="#000" stroke="none"/>
<rect x="808.7" y="306" width="16.5" height="5.7" stroke-width="0" fill="#000" stroke="none"/>
<path d="M866 270 Q876 268 880 276 L877 283 L870 280 Z" stroke-width="0" fill="#000" stroke="none"/>
<path d="M858 302 L866 292 L878 287 L882 296 L870 304 Z" stroke-width="0" fill="#000" stroke="none"/>
<path d="M880 288 L903 298" stroke-width="2.2"/>
<path d="M878 292 L898 301" stroke-width="1.6"/>
<path d="M826 313 L808.7 326 L800 330" stroke-width="1.8"/>
<path d="M830 315 L811 330 L803 334" stroke-width="1.8"/>
<path d="M877.8 307.5 L887.4 321.1 L909.7 311.4 L943.6 277.5 L937.8 269.7 L926.2 272.6 L922.3 269.7 L910.7 273.6 L894.2 290.1 Z" stroke-width="2.0" fill="#fff"/>
<path d="M890.3 303.6 L928.1 274.6" stroke-width="1.8"/>
<path d="M910.7 273.6 L912 281" stroke-width="1.8"/>
<path d="M883 301 L889 309 L893 306" stroke-width="2.4"/>
<path d="M904 296 L913.6 300 M908 293 L910 304.6" stroke-width="2.8"/>
<path d="M930 266 L941.7 272 M934 263 L937 278.4" stroke-width="2.8"/>
<path d="M930 237.8 Q945.6 242 950 255 Q953.5 270 949 285 Q943 295 934 296.9" stroke-width="3.2"/>
<path d="M929 248.4 Q939.8 250 944.5 262 Q947 274 942.7 284.3" stroke-width="2.0"/>
<path d="M930 237.8 L929.1 235.8 L915.5 247.4 L924.3 252.3 L929 248.4" stroke-width="2.0" fill="#fff"/>
</g>
<g id="p4">
<line x1="1195.8" y1="131" x2="1195.8" y2="239" stroke-width="1.6"/>
<line x1="1391.5" y1="53" x2="1391.5" y2="227" stroke-width="1.6"/>
<line x1="1127" y1="157.5" x2="1196" y2="130.5" stroke-width="1.4"/>
<line x1="1404" y1="49" x2="1452" y2="30" stroke-width="1.4"/>
<line x1="1104" y1="164.5" x2="1127" y2="157" stroke-width="7.5" stroke-linecap="butt"/>
<ellipse cx="1108.5" cy="163.2" rx="5.5" ry="6.8" stroke-width="0" fill="#000" stroke="none" transform="rotate(-20 1108.5 163.2)"/>
<path d="M1108 166 L1110 166 M1111 168 L1114 168" stroke-width="1.0" stroke="#fff"/>
<line x1="1450" y1="30.5" x2="1465" y2="25" stroke-width="7.0" stroke-linecap="butt"/>
<ellipse cx="1471" cy="22" rx="6.6" ry="8.6" stroke-width="0" fill="#000" stroke="none" transform="rotate(-20 1471 22)"/>
<path d="M1468.5 16.5 L1471 27.5" stroke-width="1.5" stroke="#fff"/>
<path d="M1473 15.5 Q1476.5 19 1475.5 25" stroke-width="1.2" stroke="#fff"/>
<path d="M1183.5 106.5 L1378.3 28.6 L1404.1 49 L1404.1 70.4 L1400.9 70.4 L1381 56 L1206.9 126 L1206.9 147.5 L1184.5 137.5 Z" stroke-width="2.2" fill="#fff"/>
<path d="M1183.5 106.5 L1206.9 126" stroke-width="1.8"/>
<path d="M1378.6 29 L1381 56" stroke-width="3.6"/>
<path d="M1184.5 107 L1378.3 29" stroke-width="3.2"/>
<path d="M1381 56 L1400.9 70.4" stroke-width="2.6"/>
<line x1="1391.5" y1="55" x2="1391.5" y2="66" stroke-width="2.0"/>
<path d="M1221 107.5 L1244.5 97.5" stroke-width="6.0"/>
<path d="M1224 106.3 L1241.5 98.8" stroke-width="1.8" stroke="#fff"/>
<path d="M1339.5 60 L1365 50" stroke-width="6.0"/>
<path d="M1342.5 58.8 L1362 51.2" stroke-width="1.8" stroke="#fff"/>
<ellipse cx="1284.8" cy="66" rx="10.5" ry="3.5" stroke-width="1.8" transform="rotate(-22 1284.8 66)"/>
<circle cx="1195.4" cy="131" r="2.3" stroke-width="0" fill="#000" stroke="none"/>
<ellipse cx="1392.1" cy="53" rx="2.6" ry="3.4" stroke-width="0" fill="#000" stroke="none"/>
<path d="M1286.9 84 Q1281 130 1284 197" stroke-width="3.4"/>
<path d="M1291.3 84 Q1289.8 147 1289 197" stroke-width="2.6"/>
<path d="M1302.2 84 Q1300 140 1292 197" stroke-width="3.2"/>
<path d="M1283.3 79 Q1283.3 73.8 1293.5 73.8 Q1303.6 73.8 1303.6 79 L1303.6 83.5 L1283.3 83.5 Z" stroke-width="3.0" fill="#fff"/>
<path d="M1289.5 75.5 L1289.5 82 M1296 75.5 L1296 82" stroke-width="2.0"/>
<path d="M1321.5 70 L1323 137 Q1320 170 1309.5 197" stroke-width="3.2"/>
<ellipse cx="1320.5" cy="67.8" rx="3.4" ry="3" stroke-width="0" fill="#000" stroke="none"/>
<path d="M1188 283 L1188 258 Q1192 199 1299 199 Q1406 199 1410.8 258 L1410.8 283" stroke-width="1.9" fill="#fff"/>
<ellipse cx="1299.8" cy="320.5" rx="129" ry="77" stroke-width="1.9" fill="#fff"/>
<path d="M1188 282.5 Q1220 247 1298 246 Q1378 247 1410.8 282" stroke-width="3.2"/>
<ellipse cx="1391.8" cy="244.6" rx="2.6" ry="4.4" stroke-width="1.7"/>
<path d="M1294.6 345 L1294.6 514" stroke-width="2.5" stroke-linecap="butt"/>
<path d="M1305.8 345 L1305.8 514" stroke-width="2.5" stroke-linecap="butt"/>
<path d="M1279.1 323.5 Q1279.1 308.8 1300.3 308.8 Q1321.5 308.8 1321.5 323.5 Q1321.5 334 1312.9 339.2 L1312.9 346.6 Q1300.3 350.8 1287.7 346.6 L1287.7 339.2 Q1279.1 334 1279.1 323.5 Z" stroke-width="2.8" fill="#fff"/>
<path d="M1281.7 322.4 Q1300.3 309.9 1318.9 322.4" stroke-width="2.6"/>
<path d="M1282.2 331.9 Q1300.3 316.2 1318.4 331.9" stroke-width="2.2"/>
<ellipse cx="1299.2" cy="331.9" rx="13.1" ry="10" stroke-width="4.6" fill="#fff"/>
<ellipse cx="1299.2" cy="331.9" rx="8.9" ry="5" stroke-width="1.4" fill="#fff"/>
<path d="M1287.7 338.2 L1312.9 338.2 L1312.9 346.6 Q1300.3 350.8 1287.7 346.6 Z" stroke-width="0" fill="#000" stroke="none"/>
<path d="M1290.8 343.4 Q1300.3 339.8 1309.8 343.4" stroke-width="1.2" stroke="#fff"/>
</g>
<g id="p5">
<path d="M180.4 850 C176 838 172.5 824 172.5 809.5 C172.5 751 219.5 703.5 277.5 703.5 C335.5 703.5 383.5 751 383.5 809.5 C383.5 868 335.5 915.5 277.5 915.5 C257 915.5 240 910 226 901 C214 893 206 880 196 877.5 L149 862 L180.4 850" stroke-width="2.1"/>
<path d="M110 845 L110 838 Q112 829.5 137 829.5 Q163 829.5 166.2 838 L166.2 845" stroke-width="1.8" fill="#fff"/>
<ellipse cx="135.5" cy="860" rx="31.8" ry="19" stroke-width="1.8" fill="#fff"/>
<path d="M108 846 Q120 840.5 137 840.8 Q155 841 165 846" stroke-width="2.6"/>
<path d="M158.5 834 Q164 836 164.5 842 L160 841 Z" stroke-width="1.5" fill="#000"/>
<path d="M149 862 L165.5 856" stroke-width="1.6"/>
<path d="M149 862 L167 868" stroke-width="1.6"/>
<ellipse cx="136.8" cy="862" rx="6.8" ry="5.4" stroke-width="0" fill="#000" stroke="none"/>
<rect x="134.8" y="861.8" width="4" height="1.4" stroke-width="0" fill="#fff" stroke="none"/>
<line x1="137.8" y1="866" x2="137.8" y2="963" stroke-width="3.6" stroke-linecap="butt"/>
<path d="M132.7 1032 L132.7 964.5 Q133 962.2 136 962.2 L139.5 962.2 Q141.6 962.4 141.6 964.5 L141.6 1032" stroke-width="2.4"/>
<path d="M192.5 792 L192.5 779 Q198 767 231 767 Q264 767 270 779 L270 792" stroke-width="1.8" fill="#fff"/>
<ellipse cx="230.5" cy="809.3" rx="44" ry="25.8" stroke-width="1.9" fill="#fff"/>
<path d="M187.5 804 Q200 786 231 784 Q262 785 273.5 801" stroke-width="2.8"/>
<circle cx="261.7" cy="782.8" r="1.8" stroke-width="0" fill="#000" stroke="none"/>
<ellipse cx="231" cy="810.8" rx="8.2" ry="7.4" stroke-width="0" fill="#000" stroke="none"/>
<rect x="227.5" y="810.3" width="6.5" height="1.8" stroke-width="0" fill="#fff" stroke="none"/>
<line x1="228.8" y1="816" x2="228.8" y2="903" stroke-width="1.7" stroke-linecap="butt"/>
<line x1="232.6" y1="816" x2="232.6" y2="903" stroke-width="1.7" stroke-linecap="butt"/>
<line x1="233" y1="870" x2="264" y2="870" stroke-width="2.0"/>
<path d="M263.8 839.5 L268.5 848.5 L265.7 848.5 L265.7 864.5 L261.9 864.5 L261.9 848.5 L259.1 848.5 Z" stroke-width="0.8" fill="#000"/>
<path d="M263.8 901 L268.5 892 L265.7 892 L265.7 874.5 L261.9 874.5 L261.9 892 L259.1 892 Z" stroke-width="0.8" fill="#000"/>
<line x1="238" y1="813.7" x2="276" y2="813.7" stroke-width="2.2" stroke-linecap="butt"/>
<line x1="276" y1="812.3" x2="326" y2="812.3" stroke-width="1.3" stroke-linecap="butt"/>
<line x1="276" y1="815.2" x2="326" y2="815.2" stroke-width="1.3" stroke-linecap="butt"/>
<rect x="280.3" y="811" width="9.5" height="6" stroke-width="1.3" fill="#fff"/>
<rect x="325.8" y="808.2" width="8.6" height="12.6" stroke-width="0" fill="#000" stroke="none" rx="2"/>
<rect x="334.2" y="810.8" width="8" height="7.2" stroke-width="1.3" fill="#fff"/>
<rect x="342" y="805.6" width="34.2" height="17.8" stroke-width="0" fill="#000" stroke="none" rx="3.5"/>
<rect x="344" y="811.8" width="22" height="4" stroke-width="0" fill="#fff" stroke="none"/>
<line x1="370.5" y1="809" x2="370.5" y2="820.5" stroke-width="1.2" stroke="#fff"/>
</g>
<g id="p6">
<path d="M736 556 L736 544 Q740 526.8 772.7 526.8 Q805 526.8 809.5 540 L809.5 556" stroke-width="1.8" fill="#fff"/>
<ellipse cx="772.7" cy="567" rx="43.6" ry="24.7" stroke-width="1.9" fill="#fff"/>
<path d="M733 557 Q745 543 772 542.3 Q801 543 812.5 557" stroke-width="3.0"/>
<circle cx="803.7" cy="540.5" r="2" stroke-width="0" fill="#000" stroke="none"/>
<circle cx="772.8" cy="569.5" r="8.3" stroke-width="0" fill="#000" stroke="none"/>
<rect x="769" y="569.3" width="7.5" height="1.8" stroke-width="0" fill="#fff" stroke="none"/>
<line x1="769.7" y1="577" x2="769.7" y2="714" stroke-width="1.9" stroke-linecap="butt"/>
<line x1="775.8" y1="577" x2="775.8" y2="714" stroke-width="1.9" stroke-linecap="butt"/>
<path d="M765.8 851 L765.8 717 Q766 712.6 772.2 712.6 Q778.4 712.6 778.6 717 L778.6 851" stroke-width="2.2" fill="#fff"/>
<path d="M765.8 850 L778.6 850 L778.6 857 Q777 861.5 772.2 861.5 Q767.4 861.5 765.8 857 Z" stroke-width="1.0" fill="#000"/>
<path d="M770.5 862 L755.5 943" stroke-width="3.4"/>
<path d="M772 862 L757 943" stroke-width="0.8" stroke="#fff"/>
<path d="M774.2 862 L781.2 938" stroke-width="3.0"/>
<path d="M748 944 Q751.5 941 756 944 L761 958 L766 982 L766 1002 Q760 1012 746 1012 Q728 1011.5 727 1000 L727.5 985 L738 963 Z" stroke-width="2.8" fill="#fff"/>
<path d="M755 945 Q760 952 762 962" stroke-width="2.6"/>
<ellipse cx="745.8" cy="999.5" rx="18" ry="11.3" stroke-width="2.8" fill="#fff"/>
<path d="M728.5 986 Q745 976 765.5 985" stroke-width="3.6"/>
<path d="M743 984 L748 984" stroke-width="1.2" stroke="#fff"/>
<path d="M763.5 999 L763.5 946 Q763.5 938.3 783 938.3 Q802.5 938.3 802.5 946 L802.5 999" stroke-width="2.8" fill="#fff"/>
<rect x="771.5" y="945.5" width="15" height="6.5" stroke-width="2.8" fill="#fff"/>
<line x1="779" y1="945.5" x2="779" y2="952" stroke-width="2.6"/>
<path d="M764 970.5 Q783 962 802 970.5" stroke-width="4.6"/>
<path d="M780 967 L784 967 M788 967 L791 967" stroke-width="1.2" stroke="#fff"/>
<ellipse cx="784.8" cy="987" rx="16.6" ry="11.2" stroke-width="2.8" fill="#fff"/>
<path d="M766 1012 L766 1002 Q786 992 806.5 1001 L806.5 1013" stroke-width="2.8" fill="#fff"/>
<ellipse cx="786" cy="1012.4" rx="20.2" ry="10.2" stroke-width="2.8" fill="#fff"/>
<ellipse cx="786" cy="1013" rx="16.6" ry="7.2" stroke-width="2.2" fill="#fff"/>
</g>
<g id="p7" stroke="#1a1a1a">
<line x1="1150" y1="702.2" x2="1175" y2="702.2" stroke-width="2.4" stroke-linecap="butt"/>
<line x1="1150" y1="742.5" x2="1175" y2="742.5" stroke-width="2.4" stroke-linecap="butt"/>
<line x1="1418" y1="703.5" x2="1441.5" y2="703.5" stroke-width="2.4" stroke-linecap="butt"/>
<line x1="1418" y1="740" x2="1441.5" y2="740" stroke-width="2.4" stroke-linecap="butt"/>
<path d="M1174.8 702.2 L1174.8 674 Q1175.5 669.5 1181 668.8 L1405.9 671.3 L1411.5 676.4" stroke-width="2.4"/>
<path d="M1174.8 742.5 L1174.8 772 Q1175.5 775.8 1180 775.8 L1412.8 775.8" stroke-width="2.4"/>
<path d="M1198.6 693.5 L1198.6 673.2 L1405.9 673.2 L1411.5 677 L1411.5 693.5 Z" stroke-width="2.4" fill="#fff"/>
<line x1="1225.2" y1="673.5" x2="1225.2" y2="693.5" stroke-width="2.2"/>
<line x1="1251.8" y1="673.5" x2="1251.8" y2="693.5" stroke-width="2.2"/>
<line x1="1278.4" y1="673.5" x2="1278.4" y2="693.5" stroke-width="2.2"/>
<line x1="1305" y1="673.5" x2="1305" y2="693.5" stroke-width="2.2"/>
<line x1="1331.7" y1="673.5" x2="1331.7" y2="693.5" stroke-width="2.2"/>
<line x1="1358.3" y1="673.5" x2="1358.3" y2="693.5" stroke-width="2.2"/>
<line x1="1384.9" y1="673.5" x2="1384.9" y2="693.5" stroke-width="2.2"/>
<circle cx="1211.9" cy="679.5" r="4.6" stroke-width="0" fill="#1a1a1a" stroke="none"/>
<circle cx="1211.9" cy="679.5" r="0.9" stroke-width="0" fill="#fff" stroke="none"/>
<circle cx="1238.5" cy="679.5" r="4.6" stroke-width="0" fill="#1a1a1a" stroke="none"/>
<circle cx="1238.5" cy="679.5" r="0.9" stroke-width="0" fill="#fff" stroke="none"/>
<circle cx="1265.1" cy="679.5" r="4.6" stroke-width="0" fill="#1a1a1a" stroke="none"/>
<circle cx="1265.1" cy="679.5" r="0.9" stroke-width="0" fill="#fff" stroke="none"/>
<circle cx="1291.7" cy="679.5" r="4.6" stroke-width="0" fill="#1a1a1a" stroke="none"/>
<circle cx="1291.7" cy="679.5" r="0.9" stroke-width="0" fill="#fff" stroke="none"/>
<circle cx="1318.4" cy="679.5" r="4.6" stroke-width="0" fill="#1a1a1a" stroke="none"/>
<circle cx="1345" cy="679.5" r="4.6" stroke-width="0" fill="#1a1a1a" stroke="none"/>
<circle cx="1371.6" cy="679.5" r="4.6" stroke-width="0" fill="#1a1a1a" stroke="none"/>
<circle cx="1371.6" cy="679.5" r="0.9" stroke-width="0" fill="#fff" stroke="none"/>
<circle cx="1398.2" cy="679.5" r="4.6" stroke-width="0" fill="#1a1a1a" stroke="none"/>
<rect x="1206.8" y="693.5" width="211.7" height="55.5" stroke-width="2.4" fill="#fff"/>
<line x1="1206.8" y1="728.6" x2="1418.5" y2="728.6" stroke-width="3.0"/>
<line x1="1233.3" y1="693.8" x2="1233.3" y2="711.2" stroke-width="2.2"/>
<line x1="1233.3" y1="729" x2="1233.3" y2="748.5" stroke-width="2.2"/>
<line x1="1259.7" y1="693.8" x2="1259.7" y2="711.2" stroke-width="2.2"/>
<line x1="1259.7" y1="729" x2="1259.7" y2="748.5" stroke-width="2.2"/>
<line x1="1286.2" y1="693.8" x2="1286.2" y2="711.2" stroke-width="2.2"/>
<line x1="1286.2" y1="729" x2="1286.2" y2="748.5" stroke-width="2.2"/>
<line x1="1312.7" y1="693.8" x2="1312.7" y2="711.2" stroke-width="2.2"/>
<line x1="1312.7" y1="729" x2="1312.7" y2="748.5" stroke-width="2.2"/>
<line x1="1339.1" y1="693.8" x2="1339.1" y2="711.2" stroke-width="2.2"/>
<line x1="1339.1" y1="729" x2="1339.1" y2="748.5" stroke-width="2.2"/>
<line x1="1365.6" y1="693.8" x2="1365.6" y2="711.2" stroke-width="2.2"/>
<line x1="1365.6" y1="729" x2="1365.6" y2="748.5" stroke-width="2.2"/>
<line x1="1392" y1="693.8" x2="1392" y2="711.2" stroke-width="2.2"/>
<line x1="1392" y1="729" x2="1392" y2="748.5" stroke-width="2.2"/>
<path d="M1206.8 710.8 L1210.8 710.8" stroke-width="1.8"/>
<path d="M1208 711.5 Q1214.3 720 1207.4 728.5" stroke-width="1.8"/>
<path d="M1232.3 706.8 L1214.3 706.8 Q1211.8 709 1212.4 714 Q1216.3 721 1212.3 728.5" stroke-width="2.0"/>
<path d="M1232.3 707.5 Q1228.3 716 1230.1 728.5" stroke-width="1.8"/>
<rect x="1220.5" y="719.4" width="6.3" height="6.2" stroke-width="0" fill="#1a1a1a" stroke="none"/>
<rect x="1223" y="721.8" width="1.4" height="1.4" stroke-width="0" fill="#fff" stroke="none"/>
<rect x="1213.3" y="737.2" width="11.5" height="5.6" stroke-width="2.0"/>
<path d="M1233.3 710.8 L1237.3 710.8" stroke-width="1.8"/>
<path d="M1234.5 711.5 Q1240.8 720 1233.9 728.5" stroke-width="1.8"/>
<path d="M1258.7 706.8 L1240.8 706.8 Q1238.3 709 1238.9 714 Q1242.8 721 1238.8 728.5" stroke-width="2.0"/>
<path d="M1258.7 707.5 Q1254.7 716 1256.5 728.5" stroke-width="1.8"/>
<rect x="1247" y="719.4" width="6.3" height="6.2" stroke-width="0" fill="#1a1a1a" stroke="none"/>
<rect x="1249.5" y="721.8" width="1.4" height="1.4" stroke-width="0" fill="#fff" stroke="none"/>
<rect x="1239.8" y="737.2" width="11.5" height="5.6" stroke-width="2.0"/>
<path d="M1259.7 710.8 L1263.7 710.8" stroke-width="1.8"/>
<path d="M1260.9 711.5 Q1267.2 720 1260.3 728.5" stroke-width="1.8"/>
<path d="M1285.2 706.8 L1267.2 706.8 Q1264.7 709 1265.3 714 Q1269.2 721 1265.2 728.5" stroke-width="2.0"/>
<path d="M1285.2 707.5 Q1281.2 716 1283 728.5" stroke-width="1.8"/>
<rect x="1273.4" y="719.4" width="6.3" height="6.2" stroke-width="0" fill="#1a1a1a" stroke="none"/>
<rect x="1275.9" y="721.8" width="1.4" height="1.4" stroke-width="0" fill="#fff" stroke="none"/>
<rect x="1266.2" y="737.2" width="11.5" height="5.6" stroke-width="2.0"/>
<path d="M1286.2 710.8 L1290.2 710.8" stroke-width="1.8"/>
<path d="M1287.4 711.5 Q1293.7 720 1286.8 728.5" stroke-width="1.8"/>
<path d="M1311.7 706.8 L1293.7 706.8 Q1291.2 709 1291.8 714 Q1295.7 721 1291.7 728.5" stroke-width="2.0"/>
<path d="M1311.7 707.5 Q1307.7 716 1309.5 728.5" stroke-width="1.8"/>
<rect x="1299.9" y="719.4" width="6.3" height="6.2" stroke-width="0" fill="#1a1a1a" stroke="none"/>
<rect x="1302.4" y="721.8" width="1.4" height="1.4" stroke-width="0" fill="#fff" stroke="none"/>
<rect x="1292.7" y="737.2" width="11.5" height="5.6" stroke-width="2.0"/>
<path d="M1312.7 710.8 L1316.7 710.8" stroke-width="1.8"/>
<path d="M1313.9 711.5 Q1320.2 720 1313.2 728.5" stroke-width="1.8"/>
<path d="M1338.1 706.8 L1320.2 706.8 Q1317.7 709 1318.2 714 Q1322.2 721 1318.2 728.5" stroke-width="2.0"/>
<path d="M1338.1 707.5 Q1334.1 716 1335.9 728.5" stroke-width="1.8"/>
<rect x="1326.4" y="719.4" width="6.3" height="6.2" stroke-width="0" fill="#1a1a1a" stroke="none"/>
<rect x="1328.9" y="721.8" width="1.4" height="1.4" stroke-width="0" fill="#fff" stroke="none"/>
<rect x="1319.2" y="737.2" width="11.5" height="5.6" stroke-width="2.0"/>
<path d="M1339.1 710.8 L1343.1 710.8" stroke-width="1.8"/>
<path d="M1340.3 711.5 Q1346.6 720 1339.7 728.5" stroke-width="1.8"/>
<path d="M1364.6 706.8 L1346.6 706.8 Q1344.1 709 1344.7 714 Q1348.6 721 1344.6 728.5" stroke-width="2.0"/>
<path d="M1364.6 707.5 Q1360.6 716 1362.4 728.5" stroke-width="1.8"/>
<rect x="1352.8" y="719.4" width="6.3" height="6.2" stroke-width="0" fill="#1a1a1a" stroke="none"/>
<rect x="1355.3" y="721.8" width="1.4" height="1.4" stroke-width="0" fill="#fff" stroke="none"/>
<rect x="1345.6" y="737.2" width="11.5" height="5.6" stroke-width="2.0"/>
<path d="M1365.6 710.8 L1369.6 710.8" stroke-width="1.8"/>
<path d="M1366.8 711.5 Q1373.1 720 1366.2 728.5" stroke-width="1.8"/>
<path d="M1391 706.8 L1373.1 706.8 Q1370.6 709 1371.2 714 Q1375.1 721 1371.1 728.5" stroke-width="2.0"/>
<path d="M1391 707.5 Q1387 716 1388.8 728.5" stroke-width="1.8"/>
<rect x="1379.3" y="719.4" width="6.3" height="6.2" stroke-width="0" fill="#1a1a1a" stroke="none"/>
<rect x="1381.8" y="721.8" width="1.4" height="1.4" stroke-width="0" fill="#fff" stroke="none"/>
<rect x="1372.1" y="737.2" width="11.5" height="5.6" stroke-width="2.0"/>
<path d="M1392 710.8 L1396 710.8" stroke-width="1.8"/>
<path d="M1393.2 711.5 Q1399.5 720 1392.6 728.5" stroke-width="1.8"/>
<path d="M1417.5 706.8 L1399.5 706.8 Q1397 709 1397.6 714 Q1401.5 721 1397.5 728.5" stroke-width="2.0"/>
<path d="M1417.5 707.5 Q1413.5 716 1415.3 728.5" stroke-width="1.8"/>
<rect x="1405.7" y="719.4" width="6.3" height="6.2" stroke-width="0" fill="#1a1a1a" stroke="none"/>
<rect x="1408.2" y="721.8" width="1.4" height="1.4" stroke-width="0" fill="#fff" stroke="none"/>
<rect x="1398.5" y="737.2" width="11.5" height="5.6" stroke-width="2.0"/>
<rect x="1197.3" y="748.8" width="215.5" height="26.5" stroke-width="2.4" fill="#fff"/>
<line x1="1197.3" y1="774.4" x2="1412.8" y2="774.4" stroke-width="3.2"/>
<line x1="1224.2" y1="749" x2="1224.2" y2="775" stroke-width="2.2"/>
<line x1="1251.2" y1="749" x2="1251.2" y2="775" stroke-width="2.2"/>
<line x1="1278.1" y1="749" x2="1278.1" y2="775" stroke-width="2.2"/>
<line x1="1305" y1="749" x2="1305" y2="775" stroke-width="2.2"/>
<line x1="1332" y1="749" x2="1332" y2="775" stroke-width="2.2"/>
<line x1="1358.9" y1="749" x2="1358.9" y2="775" stroke-width="2.2"/>
<line x1="1385.9" y1="749" x2="1385.9" y2="775" stroke-width="2.2"/>
<path d="M1205.6 774 L1205.6 765 Q1205.6 757.5 1212.1 757.5 Q1218.6 757.5 1218.6 765 L1218.6 774" stroke-width="1.6"/>
<circle cx="1211.1" cy="765.5" r="5.8" stroke-width="0" fill="#1a1a1a" stroke="none"/>
<path d="M1232.6 774 L1232.6 765 Q1232.6 757.5 1239.1 757.5 Q1245.6 757.5 1245.6 765 L1245.6 774" stroke-width="1.6"/>
<circle cx="1238.1" cy="765.5" r="5.8" stroke-width="0" fill="#1a1a1a" stroke="none"/>
<path d="M1259.5 774 L1259.5 765 Q1259.5 757.5 1266 757.5 Q1272.5 757.5 1272.5 765 L1272.5 774" stroke-width="1.6"/>
<circle cx="1265" cy="765.5" r="5.8" stroke-width="0" fill="#1a1a1a" stroke="none"/>
<path d="M1286.4 774 L1286.4 765 Q1286.4 757.5 1292.9 757.5 Q1299.4 757.5 1299.4 765 L1299.4 774" stroke-width="1.6"/>
<circle cx="1291.9" cy="765.5" r="5.8" stroke-width="0" fill="#1a1a1a" stroke="none"/>
<path d="M1313.4 774 L1313.4 765 Q1313.4 757.5 1319.9 757.5 Q1326.4 757.5 1326.4 765 L1326.4 774" stroke-width="1.6"/>
<circle cx="1318.9" cy="765.5" r="5.8" stroke-width="0" fill="#1a1a1a" stroke="none"/>
<path d="M1340.3 774 L1340.3 765 Q1340.3 757.5 1346.8 757.5 Q1353.3 757.5 1353.3 765 L1353.3 774" stroke-width="1.6"/>
<circle cx="1345.8" cy="765.5" r="5.8" stroke-width="0" fill="#1a1a1a" stroke="none"/>
<path d="M1367.2 774 L1367.2 765 Q1367.2 757.5 1373.7 757.5 Q1380.2 757.5 1380.2 765 L1380.2 774" stroke-width="1.6"/>
<circle cx="1372.7" cy="765.5" r="5.8" stroke-width="0" fill="#1a1a1a" stroke="none"/>
<path d="M1394.2 774 L1394.2 765 Q1394.2 757.5 1400.7 757.5 Q1407.2 757.5 1407.2 765 L1407.2 774" stroke-width="1.6"/>
<circle cx="1399.7" cy="765.5" r="5.8" stroke-width="0" fill="#1a1a1a" stroke="none"/>
<path d="M1326 729 Q1331 726.5 1338.5 729 L1347 743.6 L1357.9 766 L1366 776 L1378 790 L1337 790 L1330 773 L1324 751 L1322 741 Z" stroke-width="0" fill="#fff" stroke="none"/>
<path d="M1278.9 710.7 L1286.2 734.4 L1292 730 Q1312 760 1318 790 Q1319 808 1313.7 824.1 L1319.7 826.8 Q1325 805 1323.6 790 Q1318 755 1296.8 727.6 L1305.5 725.2 Z" stroke-width="0" fill="#fff" stroke="none"/>
<path d="M1278.9 710.7 L1286.2 734.4 L1292 730 M1296.8 727.6 L1305.5 725.2 L1278.9 710.7" stroke-width="2.0"/>
<path d="M1292 730 Q1312 755 1317.5 790 Q1319.5 808 1313.7 824.1 L1319.7 826.8 Q1325 808 1323 790 Q1318 755 1296.8 727.6" stroke-width="2.0"/>
<path d="M1326 729.5 Q1322 736 1322 741 Q1322 746 1324 751 L1330 773 L1344 814.2 Q1347 836 1345.7 869.3" stroke-width="2.0"/>
<path d="M1327.5 730 Q1331 737.5 1336 739 Q1341 740 1344.3 739.7" stroke-width="1.8"/>
<path d="M1338.5 729 Q1344 737 1347.2 743.6 L1357.9 766 Q1362 776 1371.6 781 Q1376 790 1379.3 797.6 Q1383 810 1395.9 817.5 L1423.5 826.3 Q1431 830 1435.6 840.1 L1439 840.1" stroke-width="2.0"/>
<path d="M1344 814.2 Q1336 822 1331.9 831.8 L1325.3 849.5 Q1320 848 1316.4 850.6 Q1306 862 1296.6 868.2" stroke-width="2.0"/>
<path d="M1325.3 849.5 Q1333 856 1335.2 869.3" stroke-width="2.0"/>
<path d="M1333.5 844 L1344 848.4" stroke-width="2.0"/>
<path d="M1323 866.5 Q1327 865 1329.5 868.5" stroke-width="1.8"/>
<path d="M1193.8 814.6 C1203.8 814.6 1211.8 822.6 1211.8 832.4 C1211.8 842.2 1203.8 850.2 1193.8 850.2 C1183.8 850.2 1175.8 842.2 1175.8 832.4 C1175.8 822.6 1183.8 814.6 1193.8 814.6 Z" stroke-width="2.2"/>
<circle cx="1194" cy="832.4" r="10.6" stroke-width="2.2"/>
<path d="M1215.2 815.9 L1222.6 815.9 L1234.4 835.4 L1234.4 815.9 L1242.6 815.9 L1242.6 848.5 L1235.5 848.5 L1222.7 827.1 L1222.7 848.5 L1215.2 848.5 Z" stroke-width="2.2"/>
</g>
</g>
<g class="t" font-size="16.5" fill="#333">
<text x="130" y="209.3" textLength="82.5" lengthAdjust="spacingAndGlyphs">disconnect</text>
<text x="219.1" y="209.3" textLength="25.2" lengthAdjust="spacingAndGlyphs">the</text>
<text x="253.6" y="209.3" textLength="35.2" lengthAdjust="spacingAndGlyphs">main</text>
<text x="298.2" y="209.3" textLength="54.3" lengthAdjust="spacingAndGlyphs">voltage</text>
<text x="130.9" y="229.2" textLength="77.1" lengthAdjust="spacingAndGlyphs">scollegare</text>
<text x="215.5" y="229.2" textLength="14.3" lengthAdjust="spacingAndGlyphs">la</text>
<text x="240" y="229.2" textLength="62.5" lengthAdjust="spacingAndGlyphs">tensione</text>
<text x="311.8" y="229.2" textLength="13.4" lengthAdjust="spacingAndGlyphs">di</text>
<text x="334.6" y="229.2" textLength="28.9" lengthAdjust="spacingAndGlyphs">rete</text>
</g>
</svg>
</body></html>
